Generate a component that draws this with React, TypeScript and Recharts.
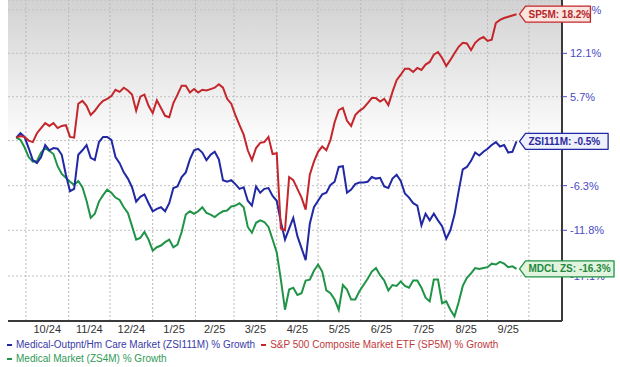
import React from "react";
import { LineChart, Line, XAxis, YAxis, CartesianGrid, ReferenceDot, ReferenceLine, ReferenceArea } from "recharts";

// sampled every 3 calendar days from 9/24/24
const START = Date.UTC(2024, 8, 24);
const STEP_DAYS = 3;

const monthStarts = [
  "2024-10-01", "2024-11-01", "2024-12-01", "2025-01-01", "2025-02-01", "2025-03-01", "2025-04-01",
  "2025-05-01", "2025-06-01", "2025-07-01", "2025-08-01", "2025-09-01", "2025-10-01",
];
const monthLabels = ["10/24", "11/24", "12/24", "1/25", "2/25", "3/25", "4/25", "5/25", "6/25", "7/25", "8/25", "9/25"];
const yTickPct = [18.9, 12.1, 5.7, -0.4, -6.3, -11.8, -17.1];

// % growth
const sp5m = [
  0.0, 0.2, 0.1, -0.4, -0.6, 0.6, 1.3, 2.0, 1.6, 2.0,
  1.3, 1.6, 1.7, 0.1, 0.0, 4.7, 5.1, 4.4, 3.1, 3.7,
  4.5, 5.1, 5.4, 5.8, 6.7, 6.4, 7.0, 6.6, 6.0, 3.7,
  5.7, 6.0, 4.4, 3.4, 5.2, 4.1, 3.0, 2.8, 4.8, 6.0,
  7.3, 7.3, 6.3, 6.8, 6.3, 6.7, 6.6, 6.8, 7.0, 7.5,
  7.0, 5.4, 4.7, 3.1, 1.7, 0.4, -1.7, -3.0, -1.4, -0.7,
  -0.6, 0.1, -2.2, -2.1, -11.6, -11.8, -5.2, -5.6, -6.7, -7.8,
  -9.3, -4.9, -3.2, -1.9, -1.2, -1.7, -0.3, 2.1, 3.8, 4.1,
  2.3, 1.6, 3.1, 3.7, 4.1, 4.8, 5.5, 5.5, 5.0, 5.4,
  4.5, 6.4, 8.1, 8.9, 9.8, 9.8, 9.3, 9.9, 9.6, 10.4,
  10.8, 11.9, 12.3, 11.4, 10.2, 11.1, 12.1, 13.1, 13.7, 13.6,
  12.6, 13.7, 14.3, 14.6, 14.0, 14.2, 16.8, 17.3, 17.6, 17.8,
  18.0, 18.2,
];
const zsi111m = [
  0.0, 0.6, 0.1, -1.4, -3.0, -3.4, -2.6, -1.0, -1.7, -1.4,
  -1.5, -2.3, -4.9, -7.0, -6.7, -2.3, -1.7, -1.0, -2.7, -3.0,
  -0.6, 0.1, 0.1, -0.3, -2.6, -3.4, -4.6, -5.4, -6.5, -8.3,
  -7.7, -7.4, -8.5, -9.5, -9.2, -9.0, -9.5, -8.5, -6.6, -6.4,
  -5.2, -4.6, -2.9, -1.7, -1.5, -2.0, -3.0, -2.3, -1.9, -2.9,
  -5.6, -5.8, -5.6, -6.1, -6.7, -6.5, -8.2, -8.8, -6.4, -7.2,
  -6.7, -6.6, -7.6, -8.2, -10.8, -12.9, -11.6, -10.3, -12.5, -13.9,
  -15.3, -11.0, -9.0, -8.2, -7.4, -7.2, -6.2, -5.8, -3.9, -3.8,
  -7.2, -6.8, -6.1, -5.9, -5.9, -5.8, -5.2, -5.4, -5.3, -6.4,
  -6.6, -5.4, -4.9, -5.7, -7.3, -7.8, -8.5, -8.8, -11.2, -9.8,
  -10.6, -9.8, -10.6, -11.3, -12.8, -11.8, -9.9, -7.0, -4.2, -3.9,
  -3.1, -2.0, -2.4, -1.9, -1.5, -1.0, -0.6, -1.2, -1.0, -2.0,
  -1.9, -0.5,
];
const zs4m = [
  0.0, -0.3, -1.3, -2.6, -3.2, -3.1, -2.0, -1.4, -1.8, -2.2,
  -3.8, -4.8, -5.3, -5.8, -6.2, -5.7, -6.5, -8.2, -10.3, -9.8,
  -8.3, -7.5, -6.8, -7.2, -7.8, -8.1, -9.0, -9.7, -11.3, -12.9,
  -12.7, -12.0, -12.9, -14.2, -13.8, -13.6, -13.2, -12.9, -13.8, -13.5,
  -12.0, -9.9, -9.5, -9.8, -9.5, -9.0, -9.7, -9.9, -10.2, -9.8,
  -9.5, -9.4, -8.9, -8.8, -8.5, -9.0, -11.4, -12.1, -10.9, -10.6,
  -10.8, -11.4, -12.9, -14.4, -17.5, -20.8, -18.6, -18.4, -19.2, -19.0,
  -17.6, -17.5, -16.5, -15.8, -16.6, -18.7, -19.0, -19.7, -20.8, -18.1,
  -18.6, -19.7, -19.7, -18.8, -18.1, -17.4, -16.6, -16.2, -17.0, -17.6,
  -18.7, -18.1, -18.2, -17.7, -18.2, -18.4, -17.6, -17.6, -18.4, -19.5,
  -19.9, -17.5, -17.5, -20.1, -19.9, -20.8, -21.5, -20.0, -18.2, -17.3,
  -16.8, -16.2, -16.3, -16.2, -16.1, -15.7, -15.8, -15.5, -15.7, -16.1,
  -16.0, -16.3,
];

const RED = "#c4262b";
const BLUE = "#2028a4";
const GREEN = "#1f9446";
const FONT = "'Liberation Sans', Arial, sans-serif";

const dayOf = (s: string) => (Date.parse(s) - START) / 86400000;
const monthDays = monthStarts.map(dayOf);
const labelDays = monthLabels.map((_, i) => (monthDays[i] + monthDays[i + 1]) / 2);
const yTicks = yTickPct.map((p) => 1 + p / 100);
const X_DOMAIN = [-6, 396];
const Y_DOMAIN = [0.78, 1.205];

const data = sp5m.map((v, i) => ({
  day: i * STEP_DAYS,
  sp5m: 1 + v / 100,
  zsi: 1 + zsi111m[i] / 100,
  zs4m: 1 + zs4m[i] / 100,
}));
const last = data[data.length - 1];

const Badge = ({ cx, cy, text, stroke, fill, color }: any) => {
  const x0 = cx + 3;
  const w = text.length * 5.9;
  const d = `M${x0},${cy} L${x0 + 6},${cy - 8} L${x0 + 6 + w},${cy - 8} L${x0 + 6 + w},${cy + 8} L${x0 + 6},${cy + 8} Z`;
  return (
    <g>
      <path d={d} fill={fill} stroke={stroke} strokeWidth={1.3} strokeLinejoin="round" />
      <text x={x0 + 9} y={cy + 3.5} fill={color} fontSize={10} fontWeight="bold" fontFamily={FONT}>
        {text}
      </text>
    </g>
  );
};

const LegendItem = ({ color, textColor, label }: any) => (
  <span style={{ display: "inline-flex", alignItems: "center", marginRight: 6 }}>
    <span style={{ width: 5, height: 2, background: color, marginRight: 4 }} />
    <span style={{ color: textColor }}>{label}</span>
  </span>
);

export default function App() {
  return (
    <div style={{ position: "relative", width: 620, height: 367, background: "#fff", fontFamily: FONT }}>
      <style>{"body{margin:0}"}</style>
      <LineChart width={620} height={367} data={data} margin={{ top: 0, right: 0, left: 8, bottom: 16 }}>
        <defs>
          <linearGradient id="bg" x1="0" y1="0" x2="0" y2="1">
            <stop offset="0" stopColor="#d2d2d2" />
            <stop offset="0.46" stopColor="#ffffff" />
            <stop offset="1" stopColor="#ffffff" />
          </linearGradient>
        </defs>
        {/* plot background */}
        <ReferenceArea
          x1={X_DOMAIN[0]}
          x2={X_DOMAIN[1]}
          y1={Y_DOMAIN[0]}
          y2={Y_DOMAIN[1]}
          fill="url(#bg)"
          fillOpacity={1}
          stroke="none"
          zIndex={-90}
        />
        <CartesianGrid stroke="#c0c0c0" strokeDasharray="2 2" vertical={false} zIndex={-70} />
        {/* month-start gridlines */}
        {monthDays.map((d) => (
          <ReferenceLine key={d} x={d} stroke="#b8b8b8" strokeDasharray="2 2" zIndex={-60} />
        ))}
        <XAxis
          dataKey="day"
          type="number"
          domain={X_DOMAIN}
          allowDataOverflow
          ticks={labelDays}
          interval={0}
          tickFormatter={(v: number) => monthLabels[labelDays.indexOf(v)]}
          tickSize={0}
          tickMargin={4}
          height={30}
          axisLine={{ stroke: "#3a3a3a", strokeWidth: 2 }}
          tick={{ fill: "#333", fontSize: 11, fontFamily: FONT }}
        />
        <YAxis
          orientation="right"
          scale="log"
          domain={Y_DOMAIN}
          allowDataOverflow
          ticks={yTicks}
          interval={0}
          width={58}
          tickSize={5}
          tickMargin={3}
          tickFormatter={(v: number) => `${((v - 1) * 100).toFixed(1)}%`}
          axisLine={{ stroke: "#3a3a3a", strokeWidth: 2 }}
          tickLine={{ stroke: "#4b4bc4" }}
          tick={{ fill: "#4b4bc4", fontSize: 11, fontFamily: FONT }}
        />
        <Line dataKey="zs4m" stroke={GREEN} strokeWidth={2} dot={false} isAnimationActive={false} />
        <Line dataKey="zsi" stroke={BLUE} strokeWidth={2} dot={false} isAnimationActive={false} />
        <Line dataKey="sp5m" stroke={RED} strokeWidth={2} dot={false} isAnimationActive={false} />
        <ReferenceDot
          x={last.day}
          y={last.sp5m}
          ifOverflow="visible"
          zIndex={3000}
          shape={(p: any) => (
            <Badge cx={p.cx} cy={p.cy} text={`SP5M: ${sp5m[sp5m.length - 1].toFixed(1)}%`} stroke={RED} fill="#fbe5df" color="#b5262b" />
          )}
        />
        <ReferenceDot
          x={last.day}
          y={last.zsi}
          ifOverflow="visible"
          zIndex={3000}
          shape={(p: any) => (
            <Badge cx={p.cx} cy={p.cy} text={`ZSI111M: ${zsi111m[zsi111m.length - 1].toFixed(1)}%`} stroke={BLUE} fill="#eef0fb" color="#2a2a9c" />
          )}
        />
        <ReferenceDot
          x={last.day}
          y={last.zs4m}
          ifOverflow="visible"
          zIndex={3000}
          shape={(p: any) => (
            <Badge cx={p.cx} cy={p.cy} text={`MDCL ZS: ${zs4m[zs4m.length - 1].toFixed(1)}%`} stroke={GREEN} fill="#e2f3de" color="#1f8a40" />
          )}
        />
      </LineChart>
      <div style={{ position: "absolute", left: 7, top: 337, fontSize: 10, lineHeight: "12px", whiteSpace: "nowrap" }}>
        <LegendItem color={BLUE} textColor="#3a3aa8" label="Medical-Outpnt/Hm Care Market (ZSI111M) % Growth" />
        <LegendItem color={RED} textColor="#c0393b" label="S&P 500 Composite Market ETF (SP5M) % Growth" />
      </div>
      <div style={{ position: "absolute", left: 7, top: 351, fontSize: 10, lineHeight: "12px", whiteSpace: "nowrap" }}>
        <LegendItem color={GREEN} textColor="#2f9a55" label="Medical Market (ZS4M) % Growth" />
      </div>
    </div>
  );
}
